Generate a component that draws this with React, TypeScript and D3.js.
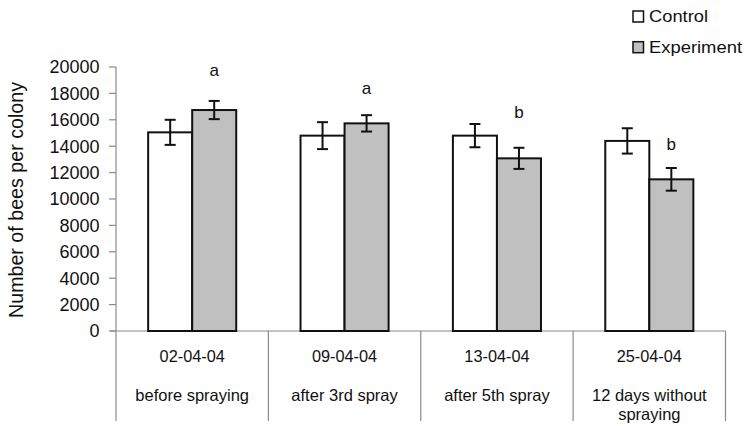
import React from "react";
import * as d3 from "d3";

const categories = ["02-04-04", "09-04-04", "13-04-04", "25-04-04"];
const subLabels = [["before spraying"], ["after 3rd spray"], ["after 5th spray"], ["12 days without", "spraying"]];
const series = ["Control", "Experiment"];
const controlValues = [15050, 14800, 14800, 14400];
const controlErrors = [950, 1020, 880, 960];
const experimentValues = [16740, 15730, 13080, 11490];
const experimentErrors = [690, 620, 800, 860];
const letters = ["a", "a", "b", "b"];
const letterLevels = [19320, 17960, 16110, 13710];
const yTicks = [0, 2000, 4000, 6000, 8000, 10000, 12000, 14000, 16000, 18000, 20000];

const W = 746;
const H = 426;
const FONT = "'Liberation Sans', Arial, Helvetica, sans-serif";

export default function App() {
  const x = d3.scaleBand<string>().domain(categories).range([116, 725.5]).padding(0);
  const xs = d3.scaleBand<string>().domain(series).range([0, x.bandwidth()]).paddingInner(0).paddingOuter(0.73);
  const y = d3.scaleLinear().domain([0, 20000]).range([331, 67]);
  const fills = ["#ffffff", "#c0c0c0"];
  const vals = [controlValues, experimentValues];
  const errs = [controlErrors, experimentErrors];
  const bw = xs.bandwidth();
  const axisColor = "#8a8a8a";

  return (
    <svg width={W} height={H} style={{ position: "absolute", left: 0, top: 0, background: "#fff" }} fontFamily={FONT}>
      <rect x={0} y={0} width={W} height={H} fill="#fff" />
      {/* y axis */}
      <line x1={116} x2={116} y1={y(20000)} y2={421} stroke={axisColor} strokeWidth={1.2} />
      {yTicks.map((t) => (
        <g key={t}>
          <line x1={109} x2={116} y1={y(t)} y2={y(t)} stroke={axisColor} strokeWidth={1.2} />
          <text x={99.5} y={y(t)} dy="0.36em" textAnchor="end" fontSize={18} fill="#111">
            {t}
          </text>
        </g>
      ))}
      <text
        transform={`translate(23,${(82 + 318) / 2}) rotate(-90)`}
        textAnchor="middle"
        fontSize={19.5}
        fill="#111"
        textLength={236}
        lengthAdjust="spacingAndGlyphs"
      >
        Number of bees per colony
      </text>
      {/* x axis */}
      <line x1={110} x2={725.5} y1={y(0)} y2={y(0)} stroke={axisColor} strokeWidth={1.2} />
      {categories.map((c) => (
        <line key={"sep" + c} x1={(x(c) as number) + x.bandwidth()} x2={(x(c) as number) + x.bandwidth()} y1={y(0)} y2={421} stroke={axisColor} strokeWidth={1.2} />
      ))}
      {/* bars */}
      {categories.map((c, i) => (
        <g key={c}>
          {series.map((s, j) => {
            const bx = (x(c) as number) + (xs(s) as number);
            const v = vals[j][i];
            const e = errs[j][i];
            const cx = bx + bw / 2;
            return (
              <g key={s}>
                <rect x={bx} y={y(v)} width={bw} height={y(0) - y(v)} fill={fills[j]} stroke="#111" strokeWidth={2} />
                <line x1={cx} x2={cx} y1={y(v + e)} y2={y(v - e)} stroke="#111" strokeWidth={2} />
                <line x1={cx - 5.5} x2={cx + 5.5} y1={y(v + e)} y2={y(v + e)} stroke="#111" strokeWidth={2} />
                <line x1={cx - 5.5} x2={cx + 5.5} y1={y(v - e)} y2={y(v - e)} stroke="#111" strokeWidth={2} />
              </g>
            );
          })}
          <text
            x={(x(c) as number) + (xs("Experiment") as number) + bw / 2}
            y={y(letterLevels[i])}
            textAnchor="middle"
            fontSize={17}
            fill="#111"
          >
            {letters[i]}
          </text>
          <text x={(x(c) as number) + x.bandwidth() / 2} y={361.5} textAnchor="middle" fontSize={16.3} fill="#111">
            {c}
          </text>
          {subLabels[i].map((l, k) => (
            <text key={l} x={(x(c) as number) + x.bandwidth() / 2} y={401 + k * 18.5} textAnchor="middle" fontSize={16.5} fill="#111">
              {l}
            </text>
          ))}
        </g>
      ))}
      {/* legend */}
      {series.map((s, j) => (
        <g key={"lg" + s}>
          <rect x={633} y={11 + j * 30.7} width={10.5} height={11} fill={fills[j]} stroke="#111" strokeWidth={1.5} />
          <text
            x={649}
            y={22 + j * 30.7}
            fontSize={16}
            fill="#111"
            textLength={j === 0 ? 59 : 93}
            lengthAdjust="spacingAndGlyphs"
          >
            {s}
          </text>
        </g>
      ))}
    </svg>
  );
}
